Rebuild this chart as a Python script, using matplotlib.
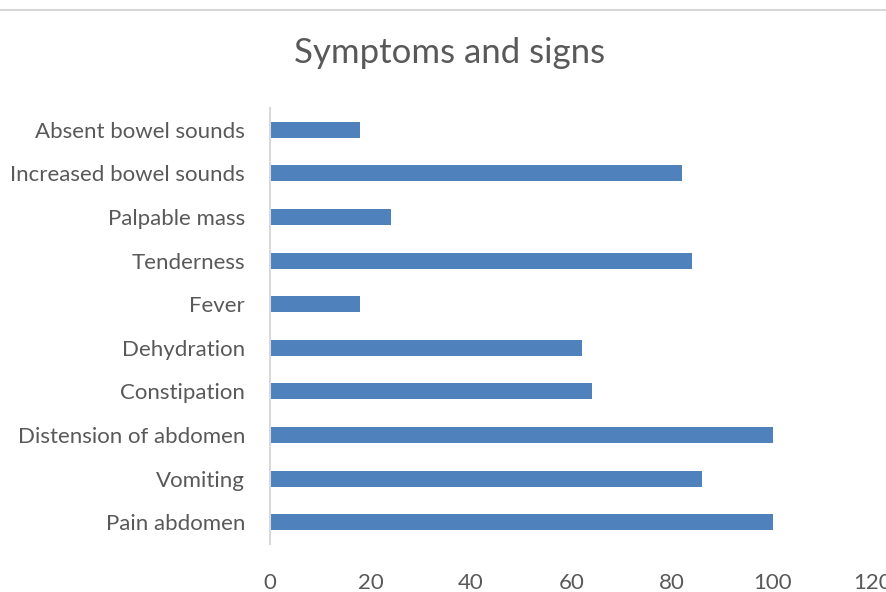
import matplotlib.pyplot as plt
from matplotlib.lines import Line2D

symptoms = ['Pain abdomen', 'Vomiting', 'Distension of abdomen', 'Constipation',
            'Dehydration', 'Fever', 'Tenderness', 'Palpable mass',
            'Increased bowel sounds', 'Absent bowel sounds']
counts = [100, 86, 100, 64, 62, 18, 84, 24, 82, 18]
xticks = [0, 20, 40, 60, 80, 100, 120]

plt.rcParams['font.family'] = ['Lato', 'DejaVu Sans']
txt = '#595959'

fig = plt.figure(figsize=(8.86, 5.92), dpi=100)
ax = fig.add_axes([270 / 886, 1 - 544 / 592, 603 / 886, 436 / 592])

ax.barh(range(len(symptoms)), counts, height=0.37, color='#4F81BD')
ax.set_xlim(0, 120)
ax.set_ylim(-0.5, len(symptoms) - 0.5)
ax.set_xticks(xticks)
ax.set_yticks(range(len(symptoms)))
ax.set_yticklabels(symptoms)

for s in ['top', 'right', 'bottom']:
    ax.spines[s].set_visible(False)
ax.spines['left'].set_color('#D9D9D9')
ax.spines['left'].set_linewidth(1.5)
ax.tick_params(axis='both', length=0, labelsize=16, colors=txt)
ax.tick_params(axis='x', pad=21)
ax.tick_params(axis='y', pad=18)

fig.text(450 / 886, 1 - 53 / 592, 'Symptoms and signs', ha='center', va='center',
         fontsize=25, color=txt)
# thin border line across the top
fig.add_artist(Line2D([0, 1], [1 - 10 / 592] * 2, color='#D0D0D0', lw=1.2))

fig.savefig('out.png', dpi=100)
